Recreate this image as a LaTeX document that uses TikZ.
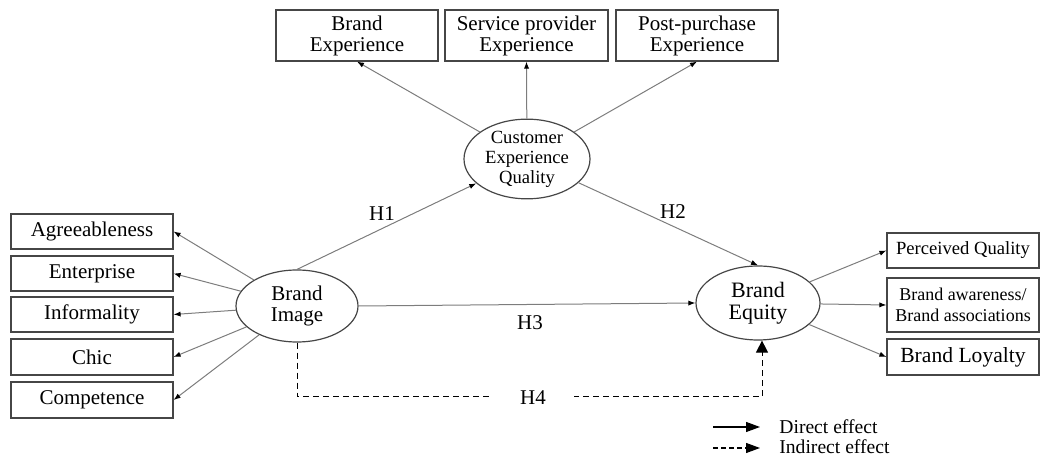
\documentclass[tikz,border=0pt]{standalone}
\usepackage{fontspec}
\setmainfont{Liberation Serif}
\usetikzlibrary{arrows.meta,shapes.geometric}
\definecolor{linegray}{RGB}{125,125,125}
\definecolor{boxgray}{RGB}{70,70,70}
\tikzset{
  box/.style={draw=boxgray, line width=0.6pt, inner sep=0pt, align=center, font=\fontsize{10.5}{10.5}\selectfont},
  lat/.style={draw=boxgray, line width=0.6pt, ellipse, inner sep=0pt, align=center},
  conn/.style={draw=linegray, line width=0.5pt, -{Latex[length=3.5pt,width=2.6pt,black]}},
  hlabel/.style={font=\fontsize{10.5}{12}\selectfont, inner sep=1pt},
  legtext/.style={font=\fontsize{9.8}{11}\selectfont, anchor=west, inner sep=0pt},
}
\begin{document}
\begin{tikzpicture}[x=0.5pt,y=-0.5pt]
\useasboundingbox (0,0) rectangle (1040,459);
% left boxes
\node[box, minimum width=81pt, minimum height=17.5pt] (agr) at (92,231.5) {Agreeableness};
\node[box, minimum width=81pt, minimum height=17.5pt] (ent) at (92,273.5) {Enterprise};
\node[box, minimum width=81pt, minimum height=17.5pt] (inf) at (92,314.5) {Informality};
\node[box, minimum width=81pt, minimum height=18pt] (chi) at (92,357) {Chic};
\node[box, minimum width=81pt, minimum height=18pt] (com) at (92,400) {Competence};
% top boxes
\node[box, minimum width=81pt, minimum height=25.5pt] (bex) at (357,35.5) {Brand\\Experience};
\node[box, minimum width=81.5pt, minimum height=25.5pt] (spe) at (526.5,35.5) {Service provider\\Experience};
\node[box, minimum width=81pt, minimum height=25.5pt] (ppe) at (697,35.5) {Post-purchase\\Experience};
% right boxes
\node[box, minimum width=76pt, minimum height=17.5pt, font=\fontsize{9.3}{10.5}\selectfont] (pq) at (963,250.5) {Perceived Quality};
\node[box, minimum width=76pt, minimum height=27pt, font=\fontsize{9}{10.3}\selectfont] (baw) at (963,305) {Brand awareness/\\Brand associations};
\node[box, minimum width=76pt, minimum height=18pt, font=\fontsize{10.8}{12}\selectfont] (bl) at (963,357) {Brand Loyalty};
% latent variables
\node[lat, minimum width=61pt, minimum height=36pt, font=\fontsize{10.5}{10.5}\selectfont] (bi) at (297,306) {Brand\\Image};
\node[lat, minimum width=62pt, minimum height=37pt, font=\fontsize{11}{11}\selectfont] (beq) at (758,303) {Brand\\Equity};
\node[lat, minimum width=63pt, minimum height=36pt, font=\fontsize{9.3}{10}\selectfont] (ceq) at (527,159) {Customer\\Experience\\Quality};
% indicator arrows
\foreach \t in {agr,ent,inf,chi,com} \draw[conn] (bi) -- (\t.east);
\draw[conn] (ceq) -- (bex.south);
\draw[conn] (ceq) -- (spe.south);
\draw[conn] (ceq) -- (ppe.south);
\draw[conn] (beq) -- (pq.west);
\draw[conn] (beq) -- (baw.west);
\draw[conn] (beq) -- (bl.west);
% structural paths
\draw[conn] (bi.north) -- (ceq);
\draw[conn] (ceq) -- (beq.north);
\draw[conn] (bi.east) -- (beq.west);
\node[hlabel] (h1) at (382,214) {H1};
\node[hlabel] (h2) at (673,212) {H2};
\node[hlabel] (h3) at (530,323) {H3};
\draw[draw=black, line width=0.5pt, dash pattern=on 3pt off 2pt, -{Triangle[length=6pt,width=6pt]}] (bi.south) -- ++(0,54) -| ([xshift=2pt]beq.south);
\node[hlabel, fill=white, inner xsep=14pt] (h4) at (533,398) {H4};
% legend
\coordinate (d1) at (713,427);
\coordinate (d2) at (760,427);
\coordinate (i1) at (713,448);
\coordinate (i2) at (760,448);
\draw[line width=0.6pt, -{Triangle[length=7pt,width=5pt]}] (d1) -- (d2);
\draw[line width=0.6pt, dash pattern=on 2.5pt off 1.5pt, -{Triangle[length=7pt,width=5pt]}] (i1) -- (i2);
\node[legtext] (dl) at (779,427) {Direct effect};
\node[legtext] (il) at (779,447) {Indirect effect};
\end{tikzpicture}
\end{document}
